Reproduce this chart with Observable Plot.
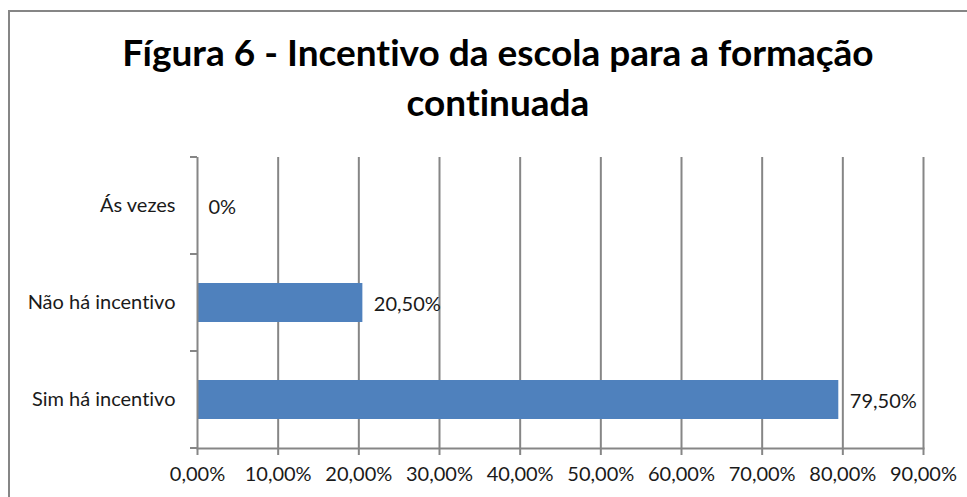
<!DOCTYPE html>
<html>
<head>
<meta charset="utf-8">
<script src="https://cdn.jsdelivr.net/npm/d3@7"></script>
<script src="https://cdn.jsdelivr.net/npm/@observablehq/plot@0.6"></script>
<style>
  html, body { margin: 0; padding: 0; background: #fff; overflow: hidden; }
  body { width: 967px; height: 497px; position: relative; font-family: Lato, "Open Sans", sans-serif; font-variant-ligatures: none; }
  #frame { position: absolute; left: 8px; top: 10px; width: 980px; height: 520px; border: 2px solid #868686; box-sizing: border-box; }
  #title { position: absolute; left: 8px; top: 27px; width: 980px; text-align: center; font-weight: bold; font-size: 37px; line-height: 50px; color: #000; font-variant-ligatures: none; }
  #chart { position: absolute; left: 0; top: 140px; }
  #chart svg, #chart svg text { font-variant-ligatures: none; }
  #chart svg text { fill: #1a1a1a; }
</style>
</head>
<body>
<div id="frame"></div>
<div id="title">Fígura 6 - Incentivo da escola para a formação<br>continuada</div>
<div id="chart"></div>
<script>
// Data (top to bottom)
const categories = ["Ás vezes", "Não há incentivo", "Sim há incentivo"];
const values = [0, 0.205, 0.795];
const valueLabels = ["0%", "20,50%", "79,50%"];
const xTicks = [0, 0.1, 0.2, 0.3, 0.4, 0.5, 0.6, 0.7, 0.8, 0.9];

const data = categories.map((c, i) => ({cat: c, value: values[i], label: valueLabels[i]}));
const gray = "#868686";
const fmt = d => (d * 100).toFixed(2).replace(".", ",") + "%";

const plot = Plot.plot({
  width: 967,
  height: 357,
  marginLeft: 197,
  marginRight: 44,
  marginTop: 17,
  marginBottom: 49,
  style: {fontFamily: "Lato, 'Open Sans', sans-serif", fontSize: "20px", background: "transparent"},
  x: {domain: [0, 0.9], ticks: xTicks, tickFormat: fmt, label: null},
  y: {domain: categories, paddingInner: 0.6, paddingOuter: 0.3, label: null},
  marks: [
    Plot.gridX(xTicks.slice(1), {stroke: gray, strokeOpacity: 1, strokeWidth: 2}),
    Plot.barX(data, {x: "value", y: "cat", fill: "#4F81BD"}),
    Plot.text(data, {x: "value", y: "cat", text: "label", textAnchor: "start", dx: 11, dy: 2, fontSize: 20, fill: "#1a1a1a"}),
    Plot.ruleX([0], {stroke: gray, strokeWidth: 2}),
    Plot.frame({anchor: "bottom", stroke: gray, strokeWidth: 2}),
    Plot.axisX({ticks: xTicks, tickFormat: fmt, tickSize: 7, tickPadding: 11, stroke: gray, strokeWidth: 2, fontSize: 20}),
    Plot.axisY({tickSize: 0, tickPadding: 22, fontSize: 20})
  ]
});
document.getElementById("chart").appendChild(plot);

// y-axis tick marks at category band boundaries, derived from the y scale
const ys = plot.scale("y");
const [r0, r1] = ys.range;
const step = (r1 - r0) / categories.length;
const svg = d3.select(plot);
svg.append("g").selectAll("line")
  .data(d3.range(categories.length + 1))
  .join("line")
  .attr("x1", 197 - 7).attr("x2", 197)
  .attr("y1", k => r0 + k * step).attr("y2", k => r0 + k * step)
  .attr("stroke", gray).attr("stroke-width", 2);
</script>
</body>
</html>
